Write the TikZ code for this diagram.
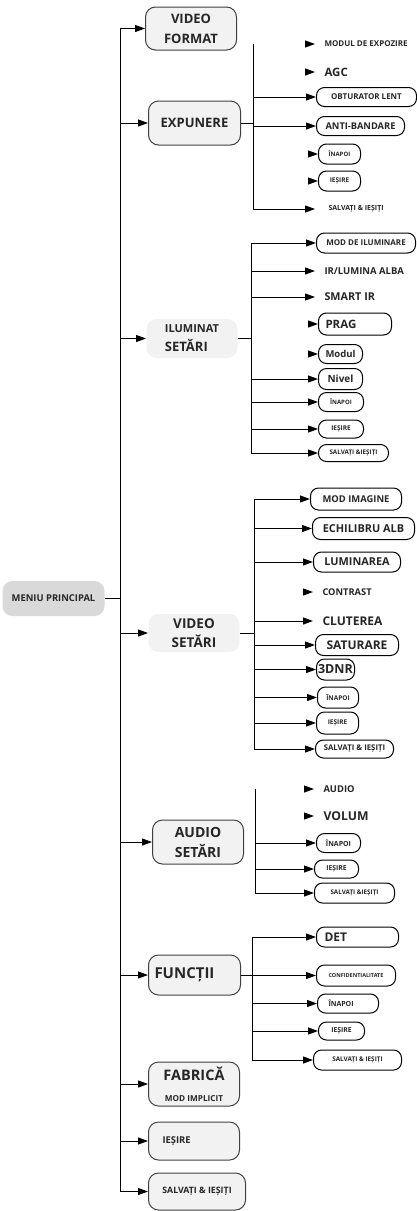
\documentclass[tikz,border=0pt]{standalone}
\usepackage{fontspec}
\setmainfont{Open Sans}
\usepackage{xcolor}
\usepackage{tikz}
\usetikzlibrary{arrows.meta}
\newcommand{\fsz}[1]{\fontsize{#1}{#1}\selectfont\bfseries}
\definecolor{boxfill}{HTML}{F2F2F2}
\definecolor{menufill}{HTML}{D9D9D9}
\definecolor{boxline}{HTML}{404040}
\definecolor{txt}{HTML}{262626}

\begin{document}
\begin{tikzpicture}[
  x=1pt, y=-1pt,
  line width=1pt,
  arr/.style={-{Triangle[length=10pt,width=7pt]}},
  top/.style={draw=boxline, fill=boxfill, rounded corners=10pt, anchor=west, align=center, text=txt, inner sep=2pt},
  soft/.style={top, draw=none},
  sub/.style={draw, rounded corners=8pt, anchor=west, inner xsep=2pt, inner ysep=1pt, text=txt},
  lbl/.style={anchor=west, inner xsep=9pt, inner ysep=0pt, text=txt},
]
\useasboundingbox (0,0) rectangle (417,1211);

% main column
\node [top, fill=menufill, draw=none, minimum width=102pt, minimum height=35pt, font=\fsz{9.4}] (menu) at (2,598.5) {MENIU PRINCIPAL};
\node [top, minimum width=91pt, minimum height=43pt, font=\fsz{13}] (vf) at (145,28.5) {VIDEO\\[7pt]FORMAT};
\node [top, minimum width=92pt, minimum height=44pt, font=\fsz{13}] (exp) at (148,123) {EXPUNERE};
\node [soft, minimum width=91pt, minimum height=39pt, align=left, font=\fsz{13}] (il) at (146,338.5) {{\fsz{11}ILUMINAT}\\[6pt]SETĂRI};
\node [soft, minimum width=91pt, minimum height=38pt, font=\fsz{13.5}] (vs) at (148,633) {VIDEO\\[5pt]SETĂRI};
\node [top, minimum width=91pt, minimum height=44pt, font=\fsz{14}] (au) at (152,842) {AUDIO\\[6pt]SETĂRI};
\node [top, minimum height=40pt, inner xsep=6pt, text width=80pt, align=left, font=\fsz{15}] (fn) at (148,975) {FUNCȚII};
\node [top, minimum width=91pt, minimum height=44pt, font=\fsz{14.5}] (fab) at (148,1084) {FABRICĂ\\[7pt]{\fsz{8.2}MOD IMPLICIT}};
\node [top, minimum height=38pt, inner xsep=14pt, text width=63pt, align=left, font=\fsz{9.4}] (ies) at (148,1141) {IEȘIRE};
\node [top, minimum width=97pt, minimum height=37pt, font=\fsz{8.8}] (sv) at (148,1191.5) {SALVAȚI \& IEȘIȚI};

\coordinate (trunk) at (120,0);
\draw (trunk |- vf.west) -- (trunk |- sv.west);
\draw (menu.east) -- (trunk |- menu.east);
\foreach \n in {vf,exp,il,vs,au,fn,fab,ies,sv}
  \draw [arr] (trunk |- \n.west) -- (\n.west);

% expunere
\coordinate (ev) at (253,0);
\node [lbl, font=\fsz{8}] (e1) at (315,44) {MODUL DE EXPOZIRE};
\node [lbl, font=\fsz{11.5}] (e2) at (315,72) {AGC};
\node [sub, minimum width=100pt, minimum height=19pt, font=\fsz{8}] (e3) at (316,97) {OBTURATOR LENT};
\node [sub, minimum width=88pt, minimum height=19pt, font=\fsz{9.3}] (e4) at (316,126) {ANTI-BANDARE};
\node [sub, minimum width=42pt, minimum height=20pt, font=\fsz{6}] (e5) at (318,154) {ÎNAPOI};
\node [sub, minimum width=42pt, minimum height=20pt, font=\fsz{6.5}] (e6) at (318,181) {IEȘIRE};
\node [lbl, inner xsep=13pt, font=\fsz{7}] (e7) at (315,209) {SALVAȚI \& IEȘIȚI};
\draw (exp.east) -- (ev |- exp.east);
\draw (ev |- e1.west) -- (ev |- e7.west);
\foreach \n in {e3,e4,e7}
  \draw [arr] (ev |- \n.west) -- (\n.west);
\foreach \n in {e1,e2,e5,e6}
  \draw [arr] ([xshift=-10pt]\n.west) -- (\n.west);

% iluminat
\coordinate (iv) at (251,0);
\node [sub, minimum width=99pt, minimum height=20pt, font=\fsz{8}] (i1) at (316,243) {MOD DE ILUMINARE};
\node [lbl, font=\fsz{9.5}] (i2) at (315,271) {IR/LUMINA ALBA};
\node [lbl, font=\fsz{10.8}] (i3) at (315,297) {SMART IR};
\node [sub, minimum height=22pt, inner xsep=7pt, text width=59pt, align=left, font=\fsz{11.5}] (i4) at (318,324) {PRAG};
\node [sub, minimum width=44pt, minimum height=19pt, font=\fsz{9.5}] (i5) at (318,354) {Modul};
\node [sub, minimum width=44pt, minimum height=21pt, font=\fsz{10}] (i6) at (318,379) {Nivel};
\node [sub, minimum width=45pt, minimum height=19pt, font=\fsz{6}] (i7) at (318,402) {ÎNAPOI};
\node [sub, minimum width=45pt, minimum height=18pt, font=\fsz{6.5}] (i8) at (318,429) {IEȘIRE};
\node [sub, minimum width=70pt, minimum height=17pt, font=\fsz{6.3}] (i9) at (318,453) {SALVAȚI \&IEȘIȚI};
\draw (il.east) -- (iv |- il.east);
\draw (iv |- i1.west) -- (iv |- i9.west);
\foreach \n in {i1,i2,i3,i6,i7,i8,i9}
  \draw [arr] (iv |- \n.west) -- (\n.west);
\foreach \n in {i4,i5}
  \draw [arr] ([xshift=-10pt]\n.west) -- (\n.west);

% video setari
\coordinate (vv) at (254,0);
\node [sub, minimum width=91pt, minimum height=22pt, font=\fsz{9.4}] (v1) at (310,499) {MOD IMAGINE};
\node [sub, minimum width=102pt, minimum height=22pt, font=\fsz{10.9}] (v2) at (312,528.5) {ECHILIBRU ALB};
\node [sub, minimum width=87pt, minimum height=20pt, font=\fsz{10.9}] (v3) at (313,562) {LUMINAREA};
\node [lbl, font=\fsz{9.3}] (v4) at (313,592) {CONTRAST};
\node [lbl, font=\fsz{12}] (v5) at (313,621) {CLUTEREA};
\node [sub, minimum width=83pt, minimum height=21pt, font=\fsz{12}] (v6) at (315,645) {SATURARE};
\node [sub, minimum width=38pt, minimum height=21pt, inner xsep=0pt, font=\fsz{12.5}] (v7) at (316,669.5) {3DNR};
\node [sub, minimum width=41pt, minimum height=21pt, font=\fsz{6.5}] (v8) at (317,697.5) {ÎNAPOI};
\node [sub, minimum width=42pt, minimum height=22pt, font=\fsz{6.5}] (v9) at (316,723) {IEȘIRE};
\node [sub, minimum width=78pt, minimum height=18pt, font=\fsz{7.8}] (v10) at (315,749) {SALVAȚI \& IEȘIȚI};
\draw (vs.east) -- (vv |- vs.east);
\draw (vv |- v1.west) -- (vv |- v10.west);
\foreach \n in {v1,v2,v3,v5,v6,v7,v8,v9,v10}
  \draw [arr] (vv |- \n.west) -- (\n.west);
\draw [arr] ([xshift=-10pt]v4.west) -- (v4.west);

% audio setari
\coordinate (av) at (255,0);
\node [lbl, font=\fsz{9.4}] (a1) at (314,789) {AUDIO};
\node [lbl, font=\fsz{12.2}] (a2) at (314,816) {VOLUM};
\node [sub, minimum width=44pt, minimum height=19pt, font=\fsz{7}] (a3) at (316,843) {ÎNAPOI};
\node [sub, minimum width=44pt, minimum height=18pt, font=\fsz{6.8}] (a4) at (314,869) {IEȘIRE};
\node [sub, minimum width=80pt, minimum height=20pt, font=\fsz{6.3}] (a5) at (314,893) {SALVAȚI \&IEȘIȚI};
\draw (av |- a1.west) -- (av |- a5.west);
\foreach \n in {a3,a4,a5}
  \draw [arr] (av |- \n.west) -- (\n.west);
\foreach \n in {a1,a2}
  \draw [arr] ([xshift=-10pt]\n.west) -- (\n.west);

% functii
\coordinate (fv) at (252,0);
\node [sub, minimum height=20pt, inner xsep=8pt, text width=66pt, align=left, font=\fsz{12}] (f1) at (316,937) {DET};
\node [sub, minimum width=79pt, minimum height=21pt, font=\fsz{5.5}] (f2) at (316,975.5) {CONFIDENTIALITATE};
\node [sub, minimum height=19pt, inner xsep=11pt, text width=39pt, align=left, font=\fsz{7}] (f3) at (317,1003.5) {ÎNAPOI};
\node [sub, minimum width=46pt, minimum height=18pt, font=\fsz{6.8}] (f4) at (318,1031) {IEȘIRE};
\node [sub, minimum width=88pt, minimum height=20pt, font=\fsz{6.4}] (f5) at (313,1060) {SALVAȚI \& IEȘIȚI};
\draw (fn.east) -- (fv |- fn.east);
\draw (fv |- f1.west) -- (fv |- f5.west);
\foreach \n in {f1,f2,f3,f4,f5}
  \draw [arr] (fv |- \n.west) -- (\n.west);
\end{tikzpicture}
\end{document}
